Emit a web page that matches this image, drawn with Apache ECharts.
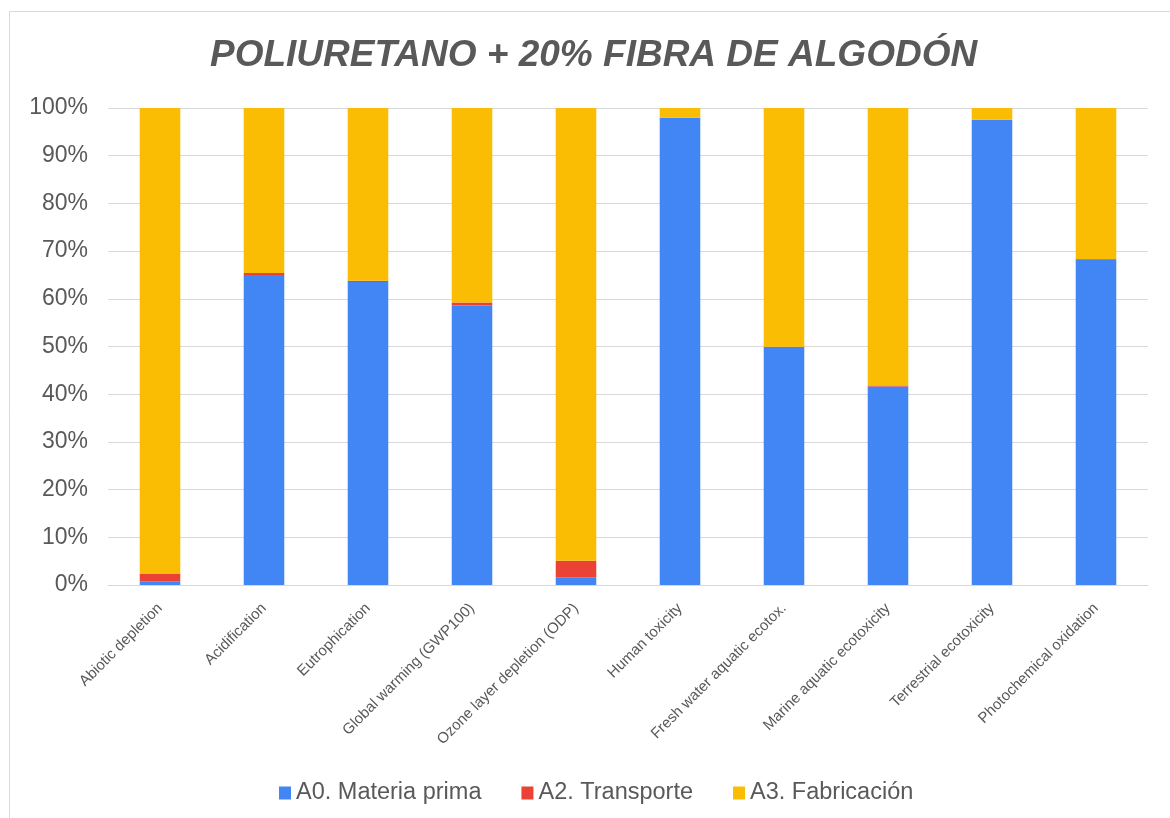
<!DOCTYPE html>
<html>
<head>
<meta charset="utf-8">
<script src="https://cdn.jsdelivr.net/npm/echarts@6/dist/echarts.min.js"></script>
<style>
  html, body { margin: 0; padding: 0; background: #fff; }
  #chart { width: 1170px; height: 818px; }
</style>
</head>
<body>
<div id="chart"></div>
<script>
var categories = ['Abiotic depletion', 'Acidification', 'Eutrophication', 'Global warming (GWP100)',
  'Ozone layer depletion (ODP)', 'Human toxicity', 'Fresh water aquatic ecotox.',
  'Marine aquatic ecotoxicity', 'Terrestrial ecotoxicity', 'Photochemical oxidation']
var materiaPrima = [0.8, 65.0, 63.5, 58.6, 1.6, 97.9, 49.9, 41.6, 97.5, 68.3]
var transporte = [1.5, 0.4, 0.3, 0.6, 3.5, 0.05, 0.05, 0.2, 0.05, 0.05]
var fabricacion = [97.7, 34.6, 36.2, 40.8, 94.9, 2.05, 50.05, 58.2, 2.45, 31.65]

var textColor = '#595959'
var font = 'Liberation Sans, Arial, sans-serif'

var chart = echarts.init(document.getElementById('chart'))

function bar(name, data, color) {
  return {
    name: name,
    type: 'bar',
    stack: 'total',
    barWidth: '39%',
    itemStyle: { color: color },
    data: data
  }
}

chart.setOption({
  animation: false,
  textStyle: { fontFamily: font },
  graphic: [{
    type: 'rect',
    shape: { x: 9.5, y: 11.5, width: 1170, height: 830 },
    style: { fill: 'none', stroke: '#d9d9d9', lineWidth: 1 }
  }],
  title: {
    text: 'POLIURETANO + 20% FIBRA DE ALGODÓN',
    left: 205,
    top: 32,
    textStyle: {
      color: textColor,
      fontSize: 37,
      fontWeight: 'bold',
      fontStyle: 'italic',
      fontFamily: font
    }
  },
  grid: {
    left: 108,
    right: 22,
    top: 108,
    bottom: 233,
    containLabel: false
  },
  legend: {
    top: 776,
    left: 274,
    itemWidth: 12,
    itemHeight: 13,
    itemGap: 40,
    icon: 'rect',
    textStyle: { color: textColor, fontSize: 23.5, fontFamily: font },
    data: ['A0. Materia prima', 'A2. Transporte', 'A3. Fabricación']
  },
  xAxis: {
    type: 'category',
    data: categories,
    axisLine: { lineStyle: { color: '#d9d9d9', width: 1 } },
    axisTick: { show: false },
    axisLabel: {
      rotate: 45,
      interval: 0,
      color: textColor,
      fontSize: 15,
      fontFamily: font,
      margin: 21
    }
  },
  yAxis: {
    type: 'value',
    min: 0,
    max: 100,
    interval: 10,
    axisLine: { show: false },
    axisTick: { show: false },
    splitLine: { lineStyle: { color: '#d9d9d9', width: 1 } },
    axisLabel: {
      formatter: '{value}%',
      color: textColor,
      fontSize: 23,
      fontFamily: font,
      margin: 20
    }
  },
  series: [
    bar('A0. Materia prima', materiaPrima, '#4285f4'),
    bar('A2. Transporte', transporte, '#ea4335'),
    bar('A3. Fabricación', fabricacion, '#fbbc04')
  ]
})
</script>
</body>
</html>
